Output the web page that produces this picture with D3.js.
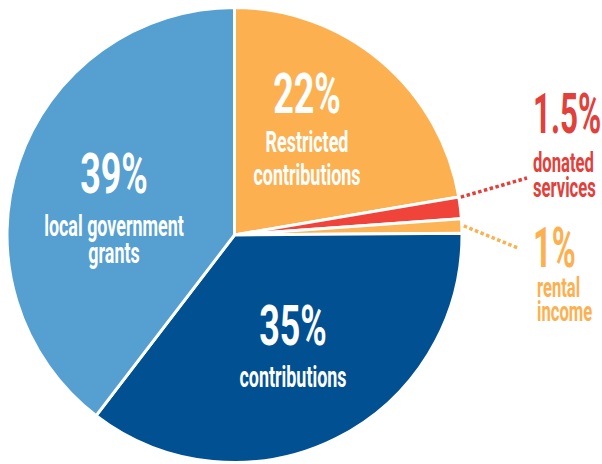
<!DOCTYPE html>
<html>
<head>
<meta charset="utf-8">
<script src="https://cdn.jsdelivr.net/npm/d3@7"></script>
<style>
  html, body { margin: 0; padding: 0; background: #fff; }
  svg { display: block; }
  text { font-family: Roboto, "Liberation Sans", sans-serif; font-weight: 700; }
</style>
</head>
<body>
<svg id="chart" width="602" height="464"></svg>
<script>
// ---- data ----
const categories = ["Restricted contributions", "donated services", "rental income", "contributions", "local government grants"];
const values = [22, 1.5, 1, 35, 39];
const pctLabels = ["22%", "1.5%", "1%", "35%", "39%"];
const nameLines = [["Restricted", "contributions"], ["donated", "services"], ["rental", "income"], ["contributions"], ["local government", "grants"]];
const sliceColors = ["#fdb04f", "#f0433a", "#fdb456", "#005092", "#559fd1"];
const labelColors = ["#ffffff", "#e2403a", "#fdb04f", "#ffffff", "#ffffff"];

// ---- layout ----
const W = 602, H = 464;
const cx = 234.5, cy = 235, R = 227.5;

const svg = d3.select("#chart");
const g = svg.append("g").attr("transform", `translate(${cx},${cy})`);

const pie = d3.pie().sort(null).value(d => d);
const arcs = pie(values);
const arc = d3.arc().innerRadius(0).outerRadius(R);

g.selectAll("path.slice")
  .data(arcs)
  .join("path")
  .attr("class", "slice")
  .attr("d", arc)
  .attr("fill", (d, i) => sliceColors[i])
  .attr("stroke", "#fff")
  .attr("stroke-width", 3)
  .attr("stroke-linejoin", "miter");

// label anchors (layout), relative to svg
const labelPos = [
  { x: 307, pct: 113, lines: [152, 185], anchor: "middle", sx: 0.64, lsx: 0.64, fs: 28 },
  { x: 533, pct: 133, lines: [172, 197], anchor: "start", sx: 0.56, lsx: 0.64, fs: 26 },
  { x: 533, lx: 537, pct: 267, lines: [297, 321], anchor: "start", sx: 0.58, lsx: 0.64, fs: 26 },
  { x: 293, pct: 345, lines: [387], anchor: "middle", sx: 0.64, lsx: 0.64, fs: 28 },
  { x: 114, pct: 193, lines: [236, 263], anchor: "middle", sx: 0.64, lsx: 0.64, fs: 28 }
];
const leaderEnd = { 1: [527, 178], 2: [518, 248] };

// leader lines for small slices
[1, 2].forEach(i => {
  const a = arcs[i];
  const ang = i === 1 ? a.startAngle : (a.startAngle + a.endAngle) / 2;
  const x0 = cx + R * Math.sin(ang), y0 = cy - R * Math.cos(ang);
  svg.append("line")
    .attr("x1", x0 + 2).attr("y1", y0)
    .attr("x2", leaderEnd[i][0]).attr("y2", leaderEnd[i][1])
    .attr("stroke", labelColors[i])
    .attr("stroke-width", 3.5)
    .attr("stroke-dasharray", "3.5,2.5");
});

// text
arcs.forEach((a, i) => {
  const p = labelPos[i];
  svg.append("text")
    .attr("transform", `translate(${p.x},${p.pct}) scale(${p.sx},1)`)
    .attr("text-anchor", p.anchor)
    .attr("font-size", 56)
    .attr("fill", labelColors[i])
    .text(pctLabels[i]);
  nameLines[i].forEach((line, j) => {
    svg.append("text")
      .attr("transform", `translate(${p.lx || p.x},${p.lines[j]}) scale(${p.lsx},1.04)`)
      .attr("text-anchor", p.anchor)
      .attr("font-size", p.fs)
      .attr("fill", labelColors[i])
      .text(line);
  });
});
</script>
</body>
</html>
